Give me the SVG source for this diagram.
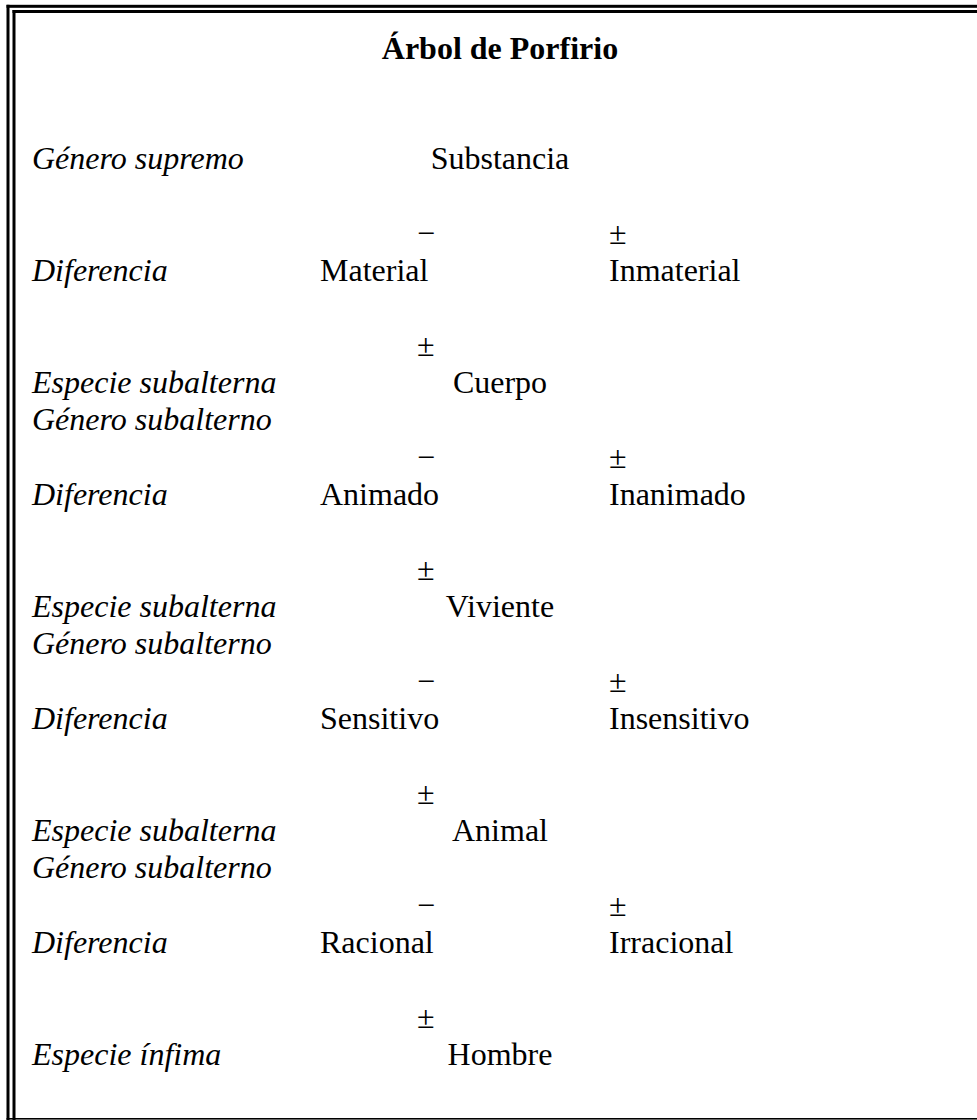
<svg xmlns="http://www.w3.org/2000/svg" width="977" height="1120" viewBox="0 0 977 1120">
<style>
text{font-family:"Liberation Serif","Times New Roman",serif;font-size:32px;fill:#000}
.t{font-weight:bold;text-anchor:middle}
.i{font-style:italic}
.c{text-anchor:middle}
.b{fill:#000}
</style>
<rect width="977" height="1120" fill="#fff"/>
<g id="frame">
<rect class="b" x="6.5" y="4.8" width="970.5" height="3"/>
<rect class="b" x="6.5" y="4.8" width="3" height="1115.2"/>
<rect class="b" x="12.5" y="10" width="964.5" height="3"/>
<rect class="b" x="12.5" y="10" width="3" height="1110"/>
<rect class="b" x="6.5" y="1118" width="970.5" height="1.6"/>
</g>
<g id="title"><text class="t" x="500" y="59">Árbol de Porfirio</text></g>
<g id="labels">
<text class="i" x="32" y="169">Género supremo</text>
<text class="i" x="32" y="281">Diferencia</text>
<text class="i" x="32" y="393">Especie subalterna</text>
<text class="i" x="32" y="430.3">Género subalterno</text>
<text class="i" x="32" y="505">Diferencia</text>
<text class="i" x="32" y="617">Especie subalterna</text>
<text class="i" x="32" y="654.3">Género subalterno</text>
<text class="i" x="32" y="729">Diferencia</text>
<text class="i" x="32" y="841">Especie subalterna</text>
<text class="i" x="32" y="878.3">Género subalterno</text>
<text class="i" x="32" y="953">Diferencia</text>
<text class="i" x="32" y="1065">Especie ínfima</text>
</g>
<g id="n-substancia"><text class="c" x="500" y="169">Substancia</text></g>
<g id="n-material"><text x="417" y="243.7">−</text><text x="320" y="281">Material</text></g>
<g id="n-inmaterial"><text x="609" y="243.7">±</text><text x="609" y="281">Inmaterial</text></g>
<g id="n-cuerpo"><text x="417" y="355.7">±</text><text class="c" x="500" y="393">Cuerpo</text></g>
<g id="n-animado"><text x="417" y="467.7">−</text><text x="320" y="505">Animado</text></g>
<g id="n-inanimado"><text x="609" y="467.7">±</text><text x="609" y="505">Inanimado</text></g>
<g id="n-viviente"><text x="417" y="579.7">±</text><text class="c" x="500" y="617">Viviente</text></g>
<g id="n-sensitivo"><text x="417" y="691.7">−</text><text x="320" y="729">Sensitivo</text></g>
<g id="n-insensitivo"><text x="609" y="691.7">±</text><text x="609" y="729">Insensitivo</text></g>
<g id="n-animal"><text x="417" y="803.7">±</text><text class="c" x="500" y="841">Animal</text></g>
<g id="n-racional"><text x="417" y="915.7">−</text><text x="320" y="953">Racional</text></g>
<g id="n-irracional"><text x="609" y="915.7">±</text><text x="609" y="953">Irracional</text></g>
<g id="n-hombre"><text x="417" y="1027.7">±</text><text class="c" x="500" y="1065">Hombre</text></g>
<g id="connectors"/>
</svg>
